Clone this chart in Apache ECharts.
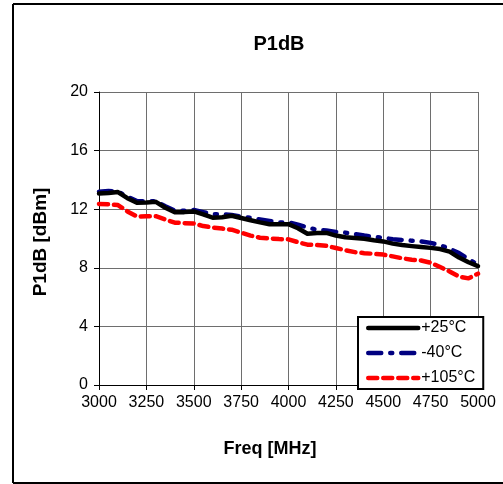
<!DOCTYPE html>
<html>
<head>
<meta charset="utf-8">
<script src="https://cdn.jsdelivr.net/npm/echarts@6/dist/echarts.min.js"></script>
<style>
  html, body { margin: 0; padding: 0; background: #fff; }
  #chart { width: 503px; height: 484px; }
</style>
</head>
<body>
<div id="chart"></div>
<script>
// Frequency points (MHz)
const freqs = [3000, 3050, 3100, 3150, 3200, 3250, 3300, 3350, 3400, 3450,
               3500, 3550, 3600, 3650, 3700, 3750, 3800, 3850, 3900, 3950,
               4000, 4050, 4100, 4150, 4200, 4250, 4300, 4350, 4400, 4450,
               4500, 4550, 4600, 4650, 4700, 4750, 4800, 4850, 4900, 4950, 5000];

// P1dB (dBm) at +25°C
const p25 = [13.07, 13.10, 13.17, 12.75, 12.44, 12.45, 12.50, 12.10, 11.79, 11.80,
             11.85, 11.65, 11.42, 11.45, 11.55, 11.40, 11.25, 11.10, 10.97, 10.97,
             10.98, 10.70, 10.32, 10.38, 10.38, 10.20, 10.08, 10.03, 9.98, 9.88,
             9.80, 9.65, 9.55, 9.48, 9.42, 9.36, 9.28, 9.10, 8.70, 8.38, 8.12];

// P1dB (dBm) at -40°C
const pm40 = [13.20, 13.25, 13.20, 12.85, 12.55, 12.55, 12.55, 12.20, 11.90, 11.90,
              11.95, 11.80, 11.65, 11.65, 11.60, 11.50, 11.40, 11.30, 11.20, 11.10,
              11.10, 10.95, 10.75, 10.60, 10.55, 10.45, 10.40, 10.30, 10.20, 10.12,
              10.05, 9.95, 9.90, 9.85, 9.80, 9.70, 9.55, 9.30, 9.00, 8.60, 8.20];

// P1dB (dBm) at +105°C
const p105 = [12.36, 12.33, 12.28, 11.85, 11.50, 11.52, 11.52, 11.30, 11.08, 11.05,
              11.03, 10.85, 10.75, 10.68, 10.60, 10.40, 10.20, 10.05, 10.00, 9.96,
              9.94, 9.75, 9.58, 9.55, 9.50, 9.35, 9.20, 9.07, 9.00, 8.95,
              8.90, 8.78, 8.65, 8.55, 8.50, 8.35, 8.05, 7.75, 7.40, 7.28, 7.60];

const seriesNames = ['+25°C', '-40°C', '+105°C'];

const FONT = 'Liberation Sans, Arial, sans-serif';

function pairs(ys) {
  return freqs.map((f, i) => [f, ys[i]]);
}

const chart = echarts.init(document.getElementById('chart'), null, { renderer: 'canvas' });

chart.setOption({
  animation: false,
  backgroundColor: '#ffffff',
  grid: { left: 99, top: 92, width: 379, height: 293, containLabel: false },
  xAxis: {
    type: 'value',
    min: 3000, max: 5000, interval: 250,
    axisLine: { show: true, lineStyle: { color: '#000', width: 1 } },
    axisTick: { show: true, inside: false, length: 5, lineStyle: { color: '#000' } },
    axisLabel: { color: '#000', fontFamily: FONT, fontSize: 16, margin: 10,
                 formatter: v => String(v) },
    splitLine: { show: true, lineStyle: { color: '#6e6e6e', width: 1 } }
  },
  yAxis: {
    type: 'value',
    min: 0, max: 20, interval: 4,
    axisLine: { show: true, lineStyle: { color: '#000', width: 1 } },
    axisTick: { show: true, inside: false, length: 5, lineStyle: { color: '#000' } },
    axisLabel: { color: '#000', fontFamily: FONT, fontSize: 16, margin: 11 },
    splitLine: { show: true, lineStyle: { color: '#6e6e6e', width: 1 } }
  },
  legend: {
    data: seriesNames,
    orient: 'vertical',
    left: 358, top: 317,
    padding: [3, 8, 3, 8],
    itemWidth: 50, itemHeight: 14, itemGap: 9,
    backgroundColor: '#fff',
    borderColor: '#000', borderWidth: 2, borderRadius: 0,
    itemStyle: { opacity: 0 },
    lineStyle: { width: 4.5 },
    textStyle: { color: '#000', fontFamily: FONT, fontSize: 16, padding: [0, 0, 0, -2] }
  },
  graphic: [
    // outer frame
    { type: 'line', shape: { x1: 13, y1: 4, x2: 503, y2: 4 }, style: { stroke: '#000', lineWidth: 2 } },
    { type: 'line', shape: { x1: 13, y1: 4, x2: 13, y2: 483 }, style: { stroke: '#000', lineWidth: 2 } },
    { type: 'line', shape: { x1: 13, y1: 483, x2: 503, y2: 483 }, style: { stroke: '#000', lineWidth: 2 } },
    // chart title
    { type: 'text', x: 279, y: 44,
      style: { text: 'P1dB', textAlign: 'center', textVerticalAlign: 'middle',
               font: 'bold 20px ' + FONT, fill: '#000' } },
    // x axis title
    { type: 'text', x: 270, y: 449,
      style: { text: 'Freq [MHz]', textAlign: 'center', textVerticalAlign: 'middle',
               font: 'bold 18px ' + FONT, fill: '#000' } },
    // y axis title
    { type: 'text', x: 41, y: 242, rotation: Math.PI / 2,
      style: { text: 'P1dB [dBm]', textAlign: 'center', textVerticalAlign: 'middle',
               font: 'bold 19px ' + FONT, fill: '#000' } }
  ],
  series: [
    {
      name: seriesNames[0], type: 'line', data: pairs(p25),
      symbol: 'none', smooth: false, z: 4,
      lineStyle: { color: '#000000', width: 4.5, type: 'solid', cap: 'round', join: 'round' },
      itemStyle: { color: '#000000' }
    },
    {
      name: seriesNames[1], type: 'line', data: pairs(pm40),
      symbol: 'none', smooth: false, z: 3,
      lineStyle: { color: '#000080', width: 4.5, type: [13, 9, 2, 9], cap: 'round', join: 'round' },
      itemStyle: { color: '#000080' }
    },
    {
      name: seriesNames[2], type: 'line', data: pairs(p105),
      symbol: 'none', smooth: false, z: 2,
      lineStyle: { color: '#ff0000', width: 4.5, type: [9, 6], cap: 'round', join: 'round' },
      itemStyle: { color: '#ff0000' }
    }
  ]
});
</script>
</body>
</html>
